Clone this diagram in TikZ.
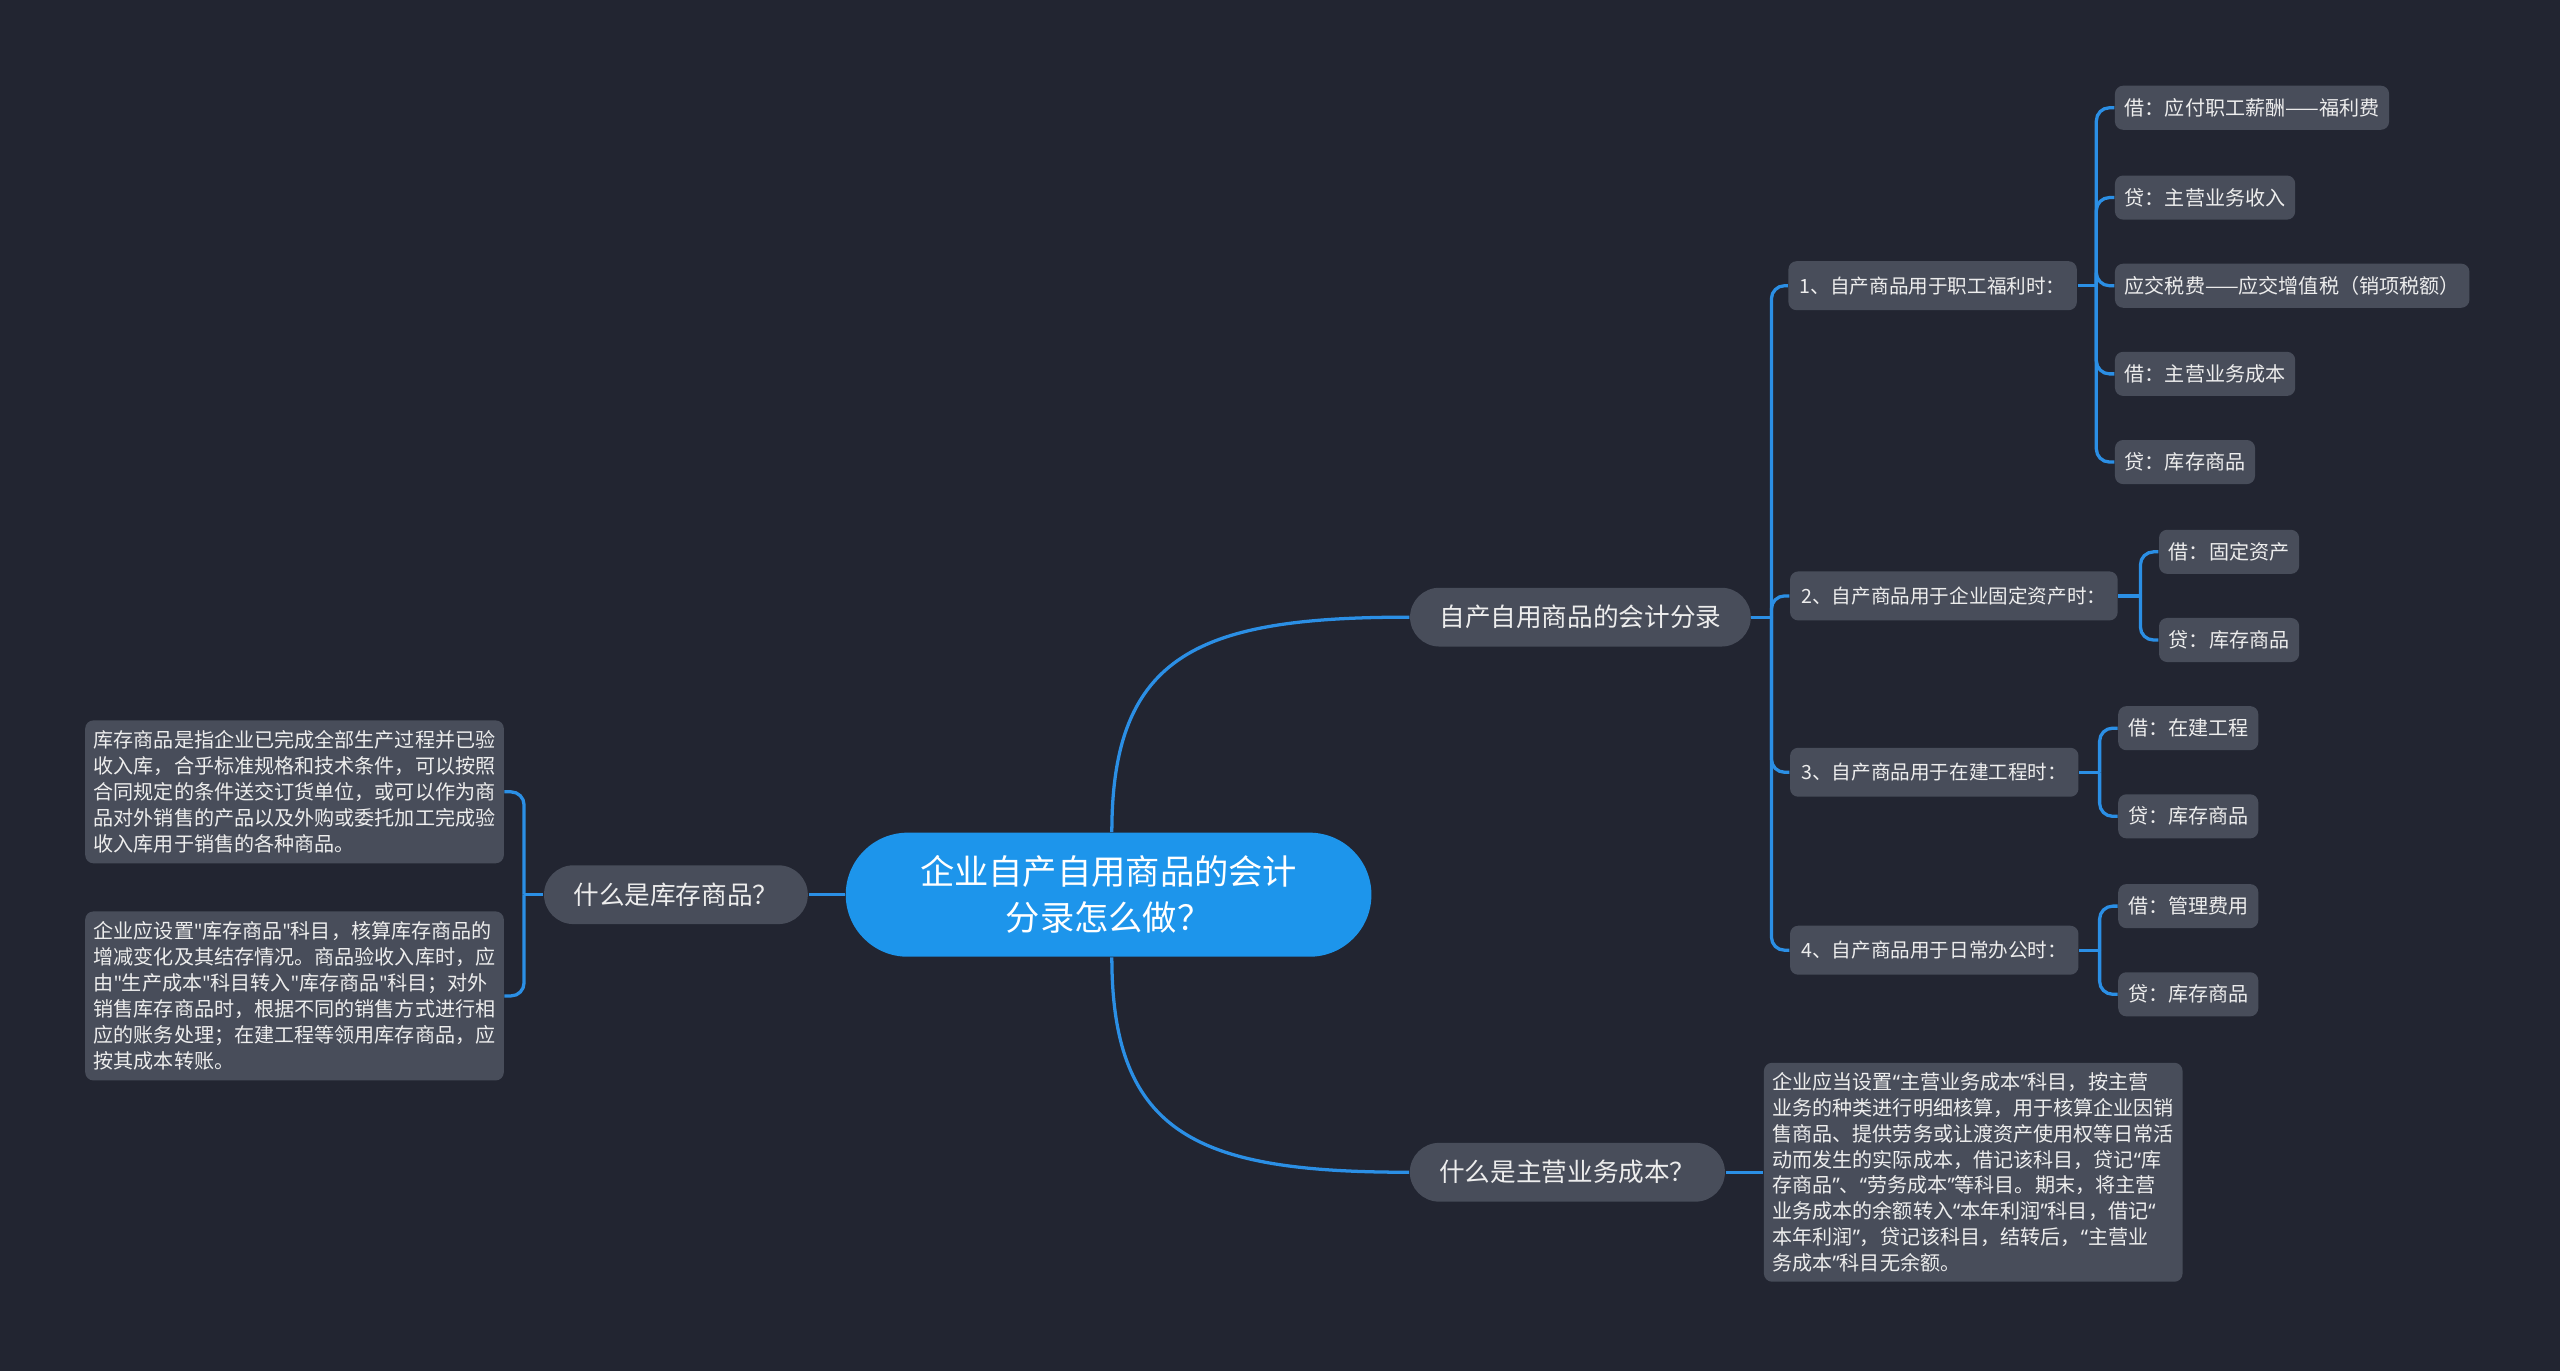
\documentclass[tikz,border=0pt]{standalone}
\usepackage{fontspec}
\setmainfont{Noto Sans CJK SC}
\newfontfamily\quotefont{Noto Sans}
\newcommand\qo{{\quotefont “}}
\newcommand\qc{{\quotefont ”}}
\newcommand\dq{{\quotefont\symbol{34}}}
\definecolor{bgc}{HTML}{222531}
\definecolor{nodeg}{HTML}{484D5A}
\definecolor{rootc}{HTML}{1D95EB}
\definecolor{linkc}{HTML}{2B8FE5}
\definecolor{txt}{HTML}{EDEDED}
\begin{document}
\begin{tikzpicture}[x=0.5pt,y=-0.5pt,
  link/.style={draw=linkc, line width=1pt},
  rootbox/.style={fill=rootc, rounded corners=19pt, minimum width=161pt, minimum height=38pt, align=center, text=white, font=\fontsize{10.5pt}{14pt}\selectfont, inner sep=0pt},
  lone/.style={fill=nodeg, rounded corners=9pt, minimum height=18pt, inner xsep=9pt, inner ysep=0pt, text=txt, font=\fontsize{7.85pt}{9pt}\selectfont},
  ltwo/.style={fill=nodeg, rounded corners=2.5pt, minimum height=15pt, inner xsep=3.5pt, inner ysep=0pt, text=txt, font=\fontsize{6pt}{7pt}\selectfont, anchor=west},
  lthree/.style={fill=nodeg, rounded corners=2.5pt, minimum height=13.5pt, inner xsep=3pt, inner ysep=0pt, text=txt, font=\fontsize{6.15pt}{7pt}\selectfont, anchor=west},
  para/.style={fill=nodeg, rounded corners=2.5pt, align=left, inner xsep=2.6pt, inner ysep=3pt, text=txt, font=\fontsize{6.15pt}{8pt}\selectfont}
]
\fill[bgc] (0,0) rectangle (1568,840);
\useasboundingbox (0,0) rectangle (1568,840);

% root
\node[rootbox] (root) at (679,548) {企业自产自用商品的会计\\分录怎么做？};

% level 1
\node[lone] (A) at (968,378) {自产自用商品的会计分录};
\node[lone] (B) at (960,718) {什么是主营业务成本？};
\node[lone] (C) at (414,548) {什么是库存商品？};

% level 2
\node[ltwo] (n1) at (1095,175) {1、自产商品用于职工福利时：};
\node[ltwo] (n2) at (1096,365) {2、自产商品用于企业固定资产时：};
\node[ltwo] (n3) at (1096,473) {3、自产商品用于在建工程时：};
\node[ltwo] (n4) at (1096,582) {4、自产商品用于日常办公时：};

% level 3
\node[lthree] (a1) at (1295,66) {借：应付职工薪酬——福利费};
\node[lthree] (a2) at (1295,121) {贷：主营业务收入};
\node[lthree] (a3) at (1295,175) {应交税费——应交增值税（销项税额）};
\node[lthree] (a4) at (1295,229) {借：主营业务成本};
\node[lthree] (a5) at (1295,283) {贷：库存商品};
\node[lthree] (b1) at (1322,338) {借：固定资产};
\node[lthree] (b2) at (1322,392) {贷：库存商品};
\node[lthree] (c1) at (1297,446) {借：在建工程};
\node[lthree] (c2) at (1297,500) {贷：库存商品};
\node[lthree] (d1) at (1297,555) {借：管理费用};
\node[lthree] (d2) at (1297,609) {贷：库存商品};

% paragraphs
\node[para, anchor=east] (pL1) at (309,485) {库存商品是指企业已完成全部生产过程并已验\\收入库，合乎标准规格和技术条件，可以按照\\合同规定的条件送交订货单位，或可以作为商\\品对外销售的产品以及外购或委托加工完成验\\收入库用于销售的各种商品。};
\node[para, anchor=east] (pL2) at (309,610) {企业应设置\dq 库存商品\dq 科目，核算库存商品的\\增减变化及其结存情况。商品验收入库时，应\\由\dq 生产成本\dq 科目转入\dq 库存商品\dq 科目；对外\\销售库存商品时，根据不同的销售方式进行相\\应的账务处理；在建工程等领用库存商品，应\\按其成本转账。};
\node[para, anchor=west, font=\fontsize{6.15pt}{7.9pt}\selectfont] (pR) at (1080,718) {企业应当设置\qo 主营业务成本\qc 科目，按主营\\业务的种类进行明细核算，用于核算企业因销\\售商品、提供劳务或让渡资产使用权等日常活\\动而发生的实际成本，借记该科目，贷记\qo 库\\存商品\qc 、\qo 劳务成本\qc 等科目。期末，将主营\\业务成本的余额转入\qo 本年利润\qc 科目，借记\qo \\本年利润\qc ，贷记该科目，结转后，\qo 主营业\\务成本\qc 科目无余额。};

% root connectors
\draw[link] ([xshift=1pt]root.north) .. controls (681,400) and (735,378) .. (A.west);
\draw[link] ([xshift=1pt]root.south) .. controls (681,696) and (735,718) .. (B.west);
\draw[link] (root.west) -- (C.east);

% A branches
\coordinate (jA) at (1085,378);
\draw[link] (A.east) -- (jA);
\foreach \n in {n1,n2,n3,n4} \draw[link, rounded corners=4pt] (jA) |- (\n.west);

\coordinate (j1) at (1284,175);
\draw[link] (n1.east) -- (j1);
\foreach \n in {a1,a2,a3,a4,a5} \draw[link, rounded corners=4pt] (j1) |- (\n.west);

\coordinate (j2) at (1311,365);
\draw[link] (n2.east) -- (j2);
\foreach \n in {b1,b2} \draw[link, rounded corners=4pt] (j2) |- (\n.west);

\coordinate (j3) at (1286,473);
\draw[link] (n3.east) -- (j3);
\foreach \n in {c1,c2} \draw[link, rounded corners=4pt] (j3) |- (\n.west);

\coordinate (j4) at (1286,582);
\draw[link] (n4.east) -- (j4);
\foreach \n in {d1,d2} \draw[link, rounded corners=4pt] (j4) |- (\n.west);

% B branch
\draw[link] (B.east) -- (pR.west);

% C branches
\coordinate (jC) at (321,548);
\draw[link] (C.west) -- (jC);
\draw[link, rounded corners=4pt] (jC) |- (pL1.east);
\draw[link, rounded corners=4pt] (jC) |- (pL2.east);
\end{tikzpicture}
\end{document}
